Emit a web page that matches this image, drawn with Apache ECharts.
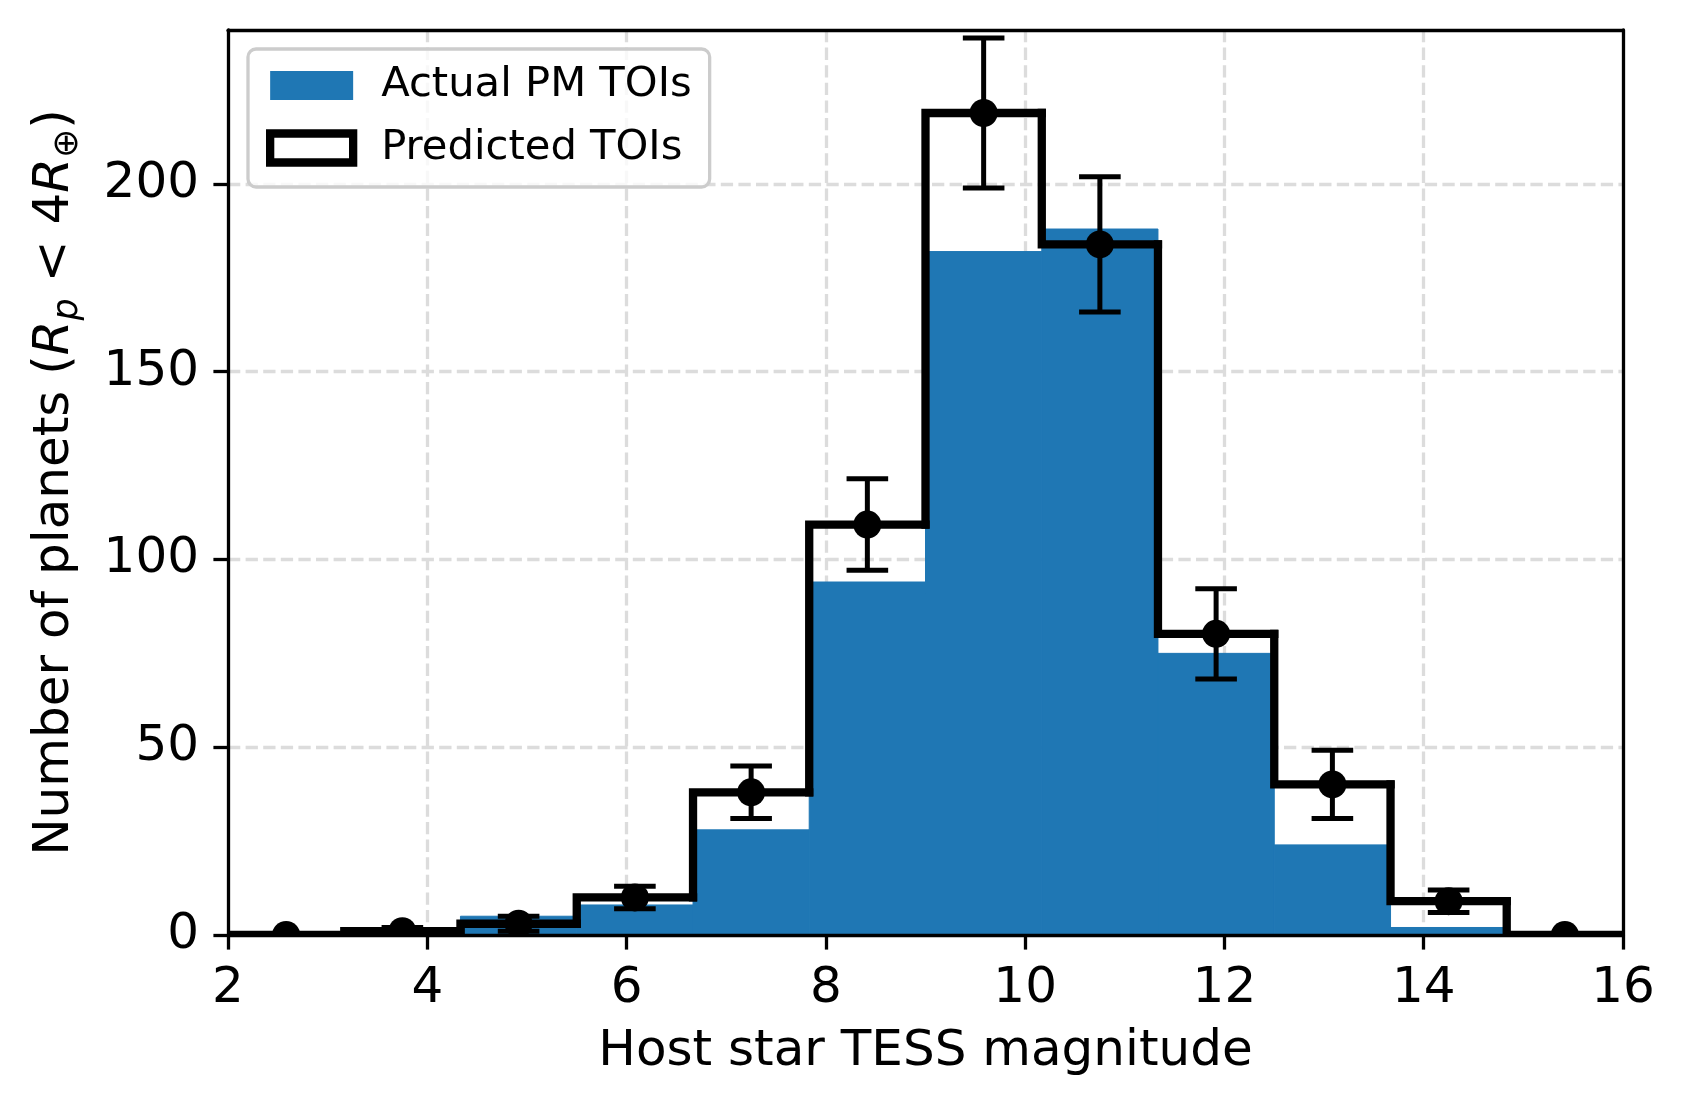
<!DOCTYPE html>
<html><head><meta charset="utf-8">
<script src="https://cdn.jsdelivr.net/npm/echarts@6/dist/echarts.min.js"></script>
<style>html,body{margin:0;padding:0;background:#fff}#c{width:1684px;height:1107px}</style>
</head><body><div id="c"></div>
<script>
// ---- data ----
const binEdges = [2, 3.167, 4.333, 5.5, 6.667, 7.833, 9, 10.167, 11.333, 12.5, 13.667, 14.833, 16];
const actualCounts = [0, 0, 5, 8, 28, 94, 182, 188, 75, 24, 2, 0];
const predictedCounts = [0, 1, 3, 10, 38, 109.3, 218.9, 183.9, 80.2, 40.1, 9, 0];
const predictedErr = [0, 1, 2, 3, 7, 12.2, 20, 18, 12, 9.1, 3, 0];
const xTicks = [2, 4, 6, 8, 10, 12, 14, 16];
const yTicks = [0, 50, 100, 150, 200];
const seriesNames = ['Actual PM TOIs', 'Predicted TOIs'];
const xLabel = 'Host star TESS magnitude';

// ---- build library data ----
const FONT = 'DejaVu Sans';
const barData = actualCounts.map((v, i) => [binEdges[i], binEdges[i + 1], v]);
const stepData = predictedCounts.map((v, i) => [binEdges[i], binEdges[i + 1], v, i === 0 ? 0 : predictedCounts[i - 1]]);
const errData = predictedCounts.map((v, i) => [(binEdges[i] + binEdges[i + 1]) / 2, v, predictedErr[i]]);

const chart = echarts.init(document.getElementById('c'), null, {renderer: 'canvas'});
const gridLine = {show: true, showMinLine: false, showMaxLine: false,
  lineStyle: {color: '#dcdcdc', width: 3.3, type: [12.3, 5.3]}};
chart.setOption({
  animation: false,
  backgroundColor: '#fff',
  grid: {left: 228, right: 61, top: 30, bottom: 172, containLabel: false, outerBoundsMode: 'none'},
  legend: {
    left: 248, top: 49, orient: 'vertical', icon: 'rect',
    itemWidth: 83, itemHeight: 29, itemGap: 6.5,
    padding: [8.5, 18, 11, 18],
    backgroundColor: 'rgba(255,255,255,0.8)', borderColor: '#cccccc', borderWidth: 3.3, borderRadius: 8,
    selectedMode: false,
    textStyle: {fontFamily: FONT, fontSize: 41.7, color: '#000', lineHeight: 46, padding: [10, 0, 0, 23]},
    data: [
      {name: seriesNames[0], itemStyle: {color: '#1f77b4', borderWidth: 0}},
      {name: seriesNames[1], itemStyle: {color: '#ffffff', borderColor: '#000', borderWidth: 8.3}}
    ],
    z: 20
  },
  xAxis: [{
    type: 'value', min: 2, max: 16, interval: 2, position: 'bottom',
    axisLine: {show: true, onZero: false, lineStyle: {color: '#000', width: 3.3}},
    axisTick: {show: true, length: 14.6, lineStyle: {color: '#000', width: 3.3}},
    axisLabel: {fontFamily: FONT, fontSize: 50, color: '#000', margin: 29},
    splitLine: {show: false},
    name: xLabel, nameLocation: 'middle', nameGap: 92,
    nameTextStyle: {fontFamily: FONT, fontSize: 50, color: '#000'},
    z: 10
  }, {
    type: 'value', position: 'top', min: 2, max: 16, interval: 2,
    axisLine: {show: true, onZero: false, lineStyle: {color: '#000', width: 3.3}},
    axisTick: {show: false}, axisLabel: {show: false},
    splitLine: gridLine, z: 0
  }],
  yAxis: [{
    type: 'value', min: 0, max: 241, interval: 50,
    axisLine: {show: true, onZero: false, lineStyle: {color: '#000', width: 3.3}},
    axisTick: {show: true, length: 14.6, customValues: yTicks, lineStyle: {color: '#000', width: 3.3}},
    axisLabel: {fontFamily: FONT, fontSize: 50, color: '#000', margin: 29, customValues: yTicks},
    splitLine: {show: false},
    name: '{n|Number of planets (}{i|R}{s|p}{n| < 4}{i|R}{o|⊕}{n|)}',
    nameLocation: 'middle', nameGap: 143,
    nameTextStyle: {
      fontFamily: FONT, fontSize: 50, color: '#000',
      rich: {
        n: {fontFamily: FONT, fontSize: 50, color: '#000', lineHeight: 60},
        i: {fontFamily: FONT, fontSize: 50, color: '#000', fontStyle: 'italic', lineHeight: 60},
        s: {fontFamily: FONT, fontSize: 35, color: '#000', fontStyle: 'italic', lineHeight: 31, verticalAlign: 'bottom'},
        o: {fontFamily: FONT, fontSize: 35, color: '#000', lineHeight: 31, verticalAlign: 'bottom'}
      }
    },
    z: 10
  }, {
    type: 'value', position: 'right', min: 0, max: 241, interval: 50,
    axisLine: {show: true, onZero: false, lineStyle: {color: '#000', width: 3.3}},
    axisTick: {show: false}, axisLabel: {show: false},
    splitLine: gridLine, z: 0
  }],
  series: [{
    name: seriesNames[0], type: 'custom', clip: true, z: 2,
    itemStyle: {color: '#1f77b4'},
    data: barData,
    renderItem: function (params, api) {
      const p0 = api.coord([api.value(0), api.value(2)]);
      const p1 = api.coord([api.value(1), 0]);
      return {type: 'rect', shape: {x: p0[0], y: p0[1], width: p1[0] - p0[0], height: p1[1] - p0[1]},
        style: {fill: '#1f77b4', stroke: '#1f77b4', lineWidth: 1}};
    }
  }, {
    name: seriesNames[1], type: 'custom', clip: true, z: 3,
    itemStyle: {color: '#ffffff', borderColor: '#000'},
    data: stepData,
    renderItem: function (params, api) {
      const x0 = api.value(0), x1 = api.value(1), v = api.value(2), prev = api.value(3);
      const pts = [api.coord([x0, prev]), api.coord([x0, v]), api.coord([x1, v])];
      if (params.dataIndex === predictedCounts.length - 1) pts.push(api.coord([x1, 0]));
      return {type: 'polyline', shape: {points: pts},
        style: {stroke: '#000', lineWidth: 8.3, fill: null, lineCap: 'square', lineJoin: 'miter'}};
    }
  }, {
    name: 'errors', type: 'custom', clip: true, z: 4,
    data: errData,
    renderItem: function (params, api) {
      const x = api.value(0), v = api.value(1), e = api.value(2);
      const top = api.coord([x, v + e]), bot = api.coord([x, v - e]), c = api.coord([x, v]);
      const cw = 20.8, st = {stroke: '#000', lineWidth: 5};
      return {type: 'group', children: [
        {type: 'line', shape: {x1: top[0], y1: top[1], x2: bot[0], y2: bot[1]}, style: st},
        {type: 'line', shape: {x1: top[0] - cw, y1: top[1], x2: top[0] + cw, y2: top[1]}, style: st},
        {type: 'line', shape: {x1: bot[0] - cw, y1: bot[1], x2: bot[0] + cw, y2: bot[1]}, style: st},
        {type: 'circle', shape: {cx: c[0], cy: c[1], r: 14}, style: {fill: '#000'}}
      ]};
    }
  }]
});
</script></body></html>
